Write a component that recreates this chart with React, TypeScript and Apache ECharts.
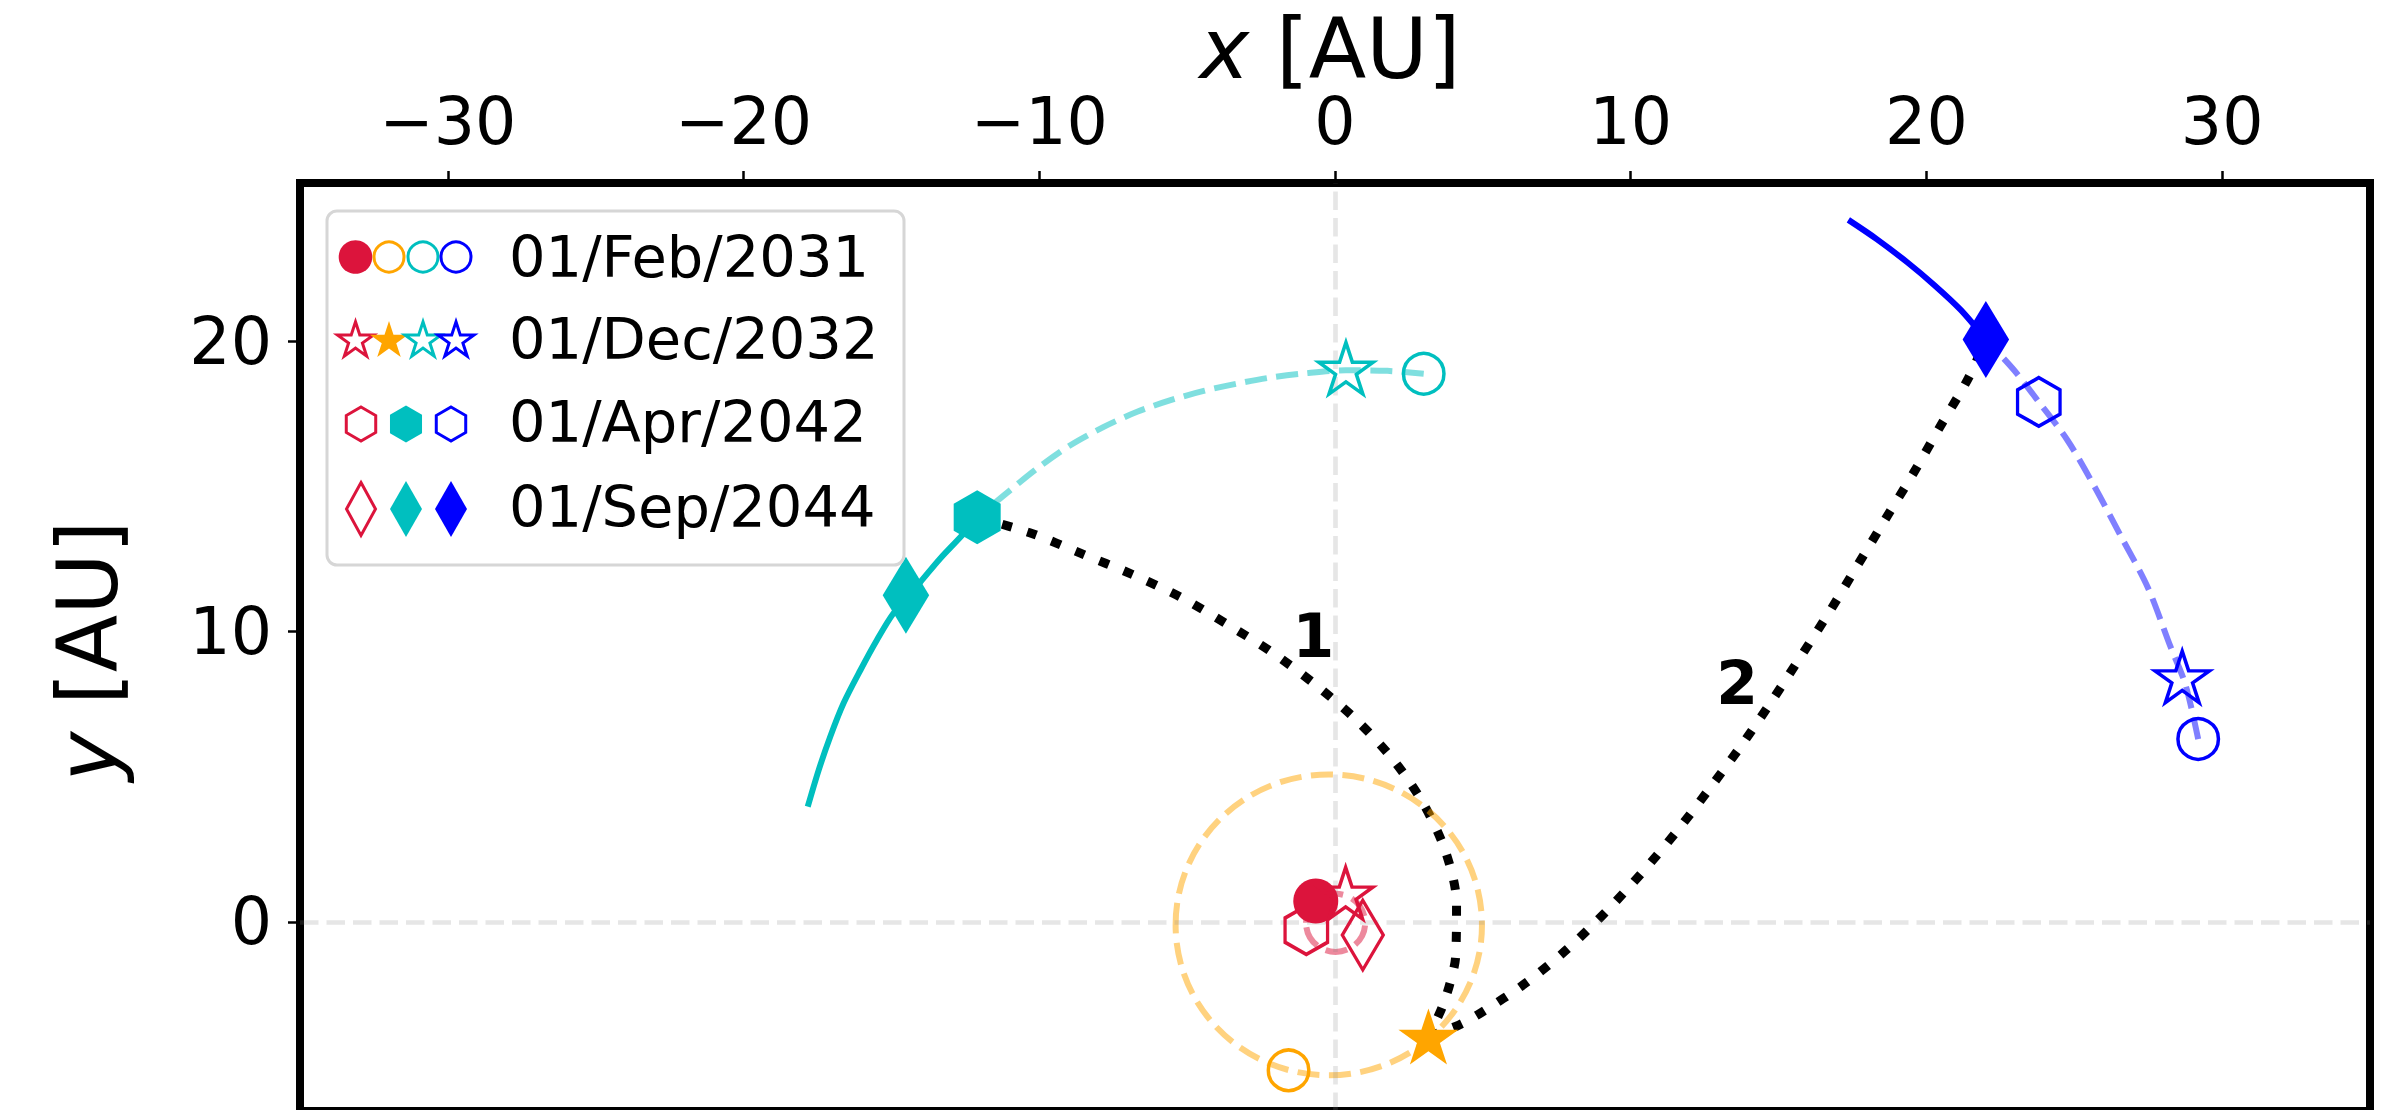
import React, { useEffect, useRef } from 'react';
import * as echarts from 'echarts';

type Pt = [number, number];

const FONT = 'DejaVu Sans';

// ---- axes ----
const xRange: Pt = [-35, 35];
const yRange: Pt = [-6.51, 25.45];
const xTicks = [-30, -20, -10, 0, 10, 20, 30];
const yTicks = [0, 10, 20];

// ---- event dates (legend rows) ----
const dates = ['01/Feb/2031', '01/Dec/2032', '01/Apr/2042', '01/Sep/2044'];

// ---- planet positions on each date [x, y] in AU ----
const earthPos: Pt[] = [[-0.65, 0.72], [0.36, 0.99], [-0.97, -0.28], [0.94, -0.45]];
const jupiterPos: Pt[] = [[-1.57, -5.11], [3.16, -3.94]];
const uranusPos: Pt[] = [[3.0, 18.88], [0.37, 19.07], [-12.1, 13.94], [-14.51, 11.25]];
const neptunePos: Pt[] = [[29.19, 6.3], [28.65, 8.44], [23.8, 17.91], [22.01, 20.06]];

// ---- closed orbits: [centre x, centre y, radius] ----
const earthOrbit = [0.02, -0.03, 1.0];
const jupiterOrbit = [-0.21, -0.1, 5.18];

// ---- orbit arcs of the outer planets ----
const uranusBefore: Pt[] = [
  [3.0, 18.88], [1.77, 18.98], [0.36, 19.0], [-1.06, 18.89], [-2.18, 18.75],
  [-3.31, 18.54], [-4.44, 18.29], [-5.56, 17.97], [-6.69, 17.57], [-7.82, 17.05],
  [-8.95, 16.42], [-10.07, 15.62], [-11.32, 14.59], [-12.1, 13.94],
];
const uranusAfter: Pt[] = [
  [-12.1, 13.94], [-12.61, 13.32], [-13.35, 12.52], [-14.02, 11.71], [-14.93, 10.63],
  [-15.49, 9.71], [-16.05, 8.67], [-16.62, 7.53], [-17.07, 6.38], [-17.46, 5.23], [-17.83, 3.97],
];
const neptuneBefore: Pt[] = [
  [29.19, 6.3], [28.76, 8.17], [28.25, 9.49], [27.49, 11.51], [26.57, 13.3],
  [25.67, 15.02], [24.77, 16.59], [23.8, 17.91], [22.96, 19.01], [22.01, 20.06],
];
const neptuneAfter: Pt[] = [
  [22.01, 20.06], [21.16, 21.08], [20.26, 21.94], [19.35, 22.72], [18.33, 23.51], [17.36, 24.18],
];

// ---- transfer trajectories ----
const transfer1: Pt[] = [
  [-12.1, 13.94], [-10.25, 13.38], [-8.61, 12.7], [-6.88, 11.98], [-5.24, 11.2],
  [-3.69, 10.28], [-2.15, 9.3], [-0.67, 8.18], [0.69, 6.99], [1.96, 5.6],
  [2.98, 4.09], [3.74, 2.42], [4.11, 0.64], [4.08, -1.19], [3.89, -2.11],
  [3.61, -2.97], [3.16, -3.94],
];
const transfer2: Pt[] = [
  [3.16, -3.94], [4.19, -3.55], [4.92, -3.14], [6.44, -2.11], [7.86, -0.93],
  [9.17, 0.36], [10.39, 1.71], [11.58, 3.15], [12.67, 4.6], [13.75, 6.09],
  [14.77, 7.61], [15.78, 9.19], [16.75, 10.73], [17.68, 12.3], [18.61, 13.87],
  [19.55, 15.44], [20.45, 17.04], [21.42, 18.73], [22.01, 20.06],
];
const transferNames = ['1', '2'];
const transferLabelPos: Pt[] = [[-0.73, 9.86], [13.6, 8.22]];

// ---- styling ----
const C = { earth: '#DC143C', jupiter: '#FFA500', uranus: '#00BFBF', neptune: '#0000FF' };
const half = (hex: string) => {
  const n = parseInt(hex.slice(1), 16);
  return `rgba(${(n >> 16) & 255},${(n >> 8) & 255},${n & 255},0.5)`;
};

const STAR = 'path://M0,-1000L224.5,-309L951,-309L363,118L588,809L0,382L-588,809L-363,118L-951,-309L-224.5,-309Z';
const HEX = 'path://M0,-1000L866,-500L866,500L0,1000L-866,500L-866,-500Z';

// marker per date index: circle, star, hexagon, thin diamond
const markerShapes = [
  { symbol: 'circle', filled: 45 as any, open: 40.5 as any },
  { symbol: STAR, filled: [60, 56], open: [54.5, 51.5] },
  { symbol: HEX, filled: [47, 54], open: [42.5, 48.5] },
  { symbol: 'diamond', filled: [46.5, 77], open: [41, 69.5] },
];
const OPEN_W = 3.5;

const bodies = [
  { key: 'earth', pos: earthPos, filled: [0] },
  { key: 'jupiter', pos: jupiterPos, filled: [1] },
  { key: 'uranus', pos: uranusPos, filled: [2, 3] },
  { key: 'neptune', pos: neptunePos, filled: [3] },
] as const;

const minus = (v: number) => (v < 0 ? '\u2212' + Math.abs(v) : String(v));

function lineSeries(data: Pt[], color: string, width: number, type: any, z: number) {
  return {
    type: 'line',
    data,
    symbol: 'none',
    showSymbol: false,
    smooth: 0.3,
    silent: true,
    z,
    lineStyle: { color, width, type, cap: 'butt', join: 'round' },
  };
}

function orbitSeries(orbit: number[], color: string, z: number) {
  return {
    type: 'custom',
    silent: true,
    z,
    data: [orbit],
    renderItem: (_p: any, api: any) => {
      const c = api.coord([api.value(0), api.value(1)]);
      const s = api.size([api.value(2), api.value(2)]);
      return {
        type: 'ellipse',
        shape: { cx: c[0], cy: c[1], rx: s[0], ry: s[1] },
        style: { fill: 'none', stroke: color, lineWidth: 6, lineDash: [22, 9.5] },
      };
    },
  };
}

// ---- legend handle geometry ----
function starPts(cx: number, cy: number, R: number) {
  const pts: number[][] = [];
  const c = cy + 0.0955 * R;
  for (let k = 0; k < 10; k++) {
    const r = k % 2 ? R * 0.381966 : R;
    const a = -Math.PI / 2 + (k * Math.PI) / 5;
    pts.push([cx + r * Math.cos(a), c + r * Math.sin(a)]);
  }
  return pts;
}
function hexPts(cx: number, cy: number, R: number) {
  const pts: number[][] = [];
  for (let k = 0; k < 6; k++) {
    const a = -Math.PI / 2 + (k * Math.PI) / 3;
    pts.push([cx + R * Math.cos(a), cy + R * Math.sin(a)]);
  }
  return pts;
}
function diaPts(cx: number, cy: number, w: number, h: number) {
  return [[cx, cy - h / 2], [cx + w / 2, cy], [cx, cy + h / 2], [cx - w / 2, cy]];
}
function handleStyle(color: string, filled: boolean) {
  return filled ? { fill: color } : { fill: 'none', stroke: color, lineWidth: 3 };
}

function legendElements() {
  const els: any[] = [];
  const Z = 100;
  els.push({
    type: 'rect', z: Z, silent: true,
    shape: { x: 327, y: 211, width: 577, height: 354, r: 10 },
    style: { fill: 'rgba(255,255,255,0.85)', stroke: '#d6d6d6', lineWidth: 3 },
  });
  const textY = [257, 339, 422, 507];
  const handleY = [257, 339, 424, 509];
  const fourX = [355.5, 389, 423, 456];
  const threeX = [361, 406, 451];
  const four = [C.earth, C.jupiter, C.uranus, C.neptune];
  const three = [C.earth, C.uranus, C.neptune];
  // circles
  four.forEach((col, i) => {
    const f = i === 0;
    els.push({ type: 'circle', z: Z + 1, silent: true, shape: { cx: fourX[i], cy: handleY[0], r: f ? 16.8 : 15 }, style: handleStyle(col, f) });
  });
  // stars
  four.forEach((col, i) => {
    const f = i === 1;
    els.push({ type: 'polygon', z: Z + 1, silent: true, shape: { points: starPts(fourX[i], handleY[1], f ? 20 : 19) }, style: handleStyle(col, f) });
  });
  // hexagons
  three.forEach((col, i) => {
    const f = i === 1;
    els.push({ type: 'polygon', z: Z + 1, silent: true, shape: { points: hexPts(threeX[i], handleY[2], f ? 18.5 : 17) }, style: handleStyle(col, f) });
  });
  // diamonds
  three.forEach((col, i) => {
    const f = i >= 1;
    els.push({ type: 'polygon', z: Z + 1, silent: true, shape: { points: f ? diaPts(threeX[i], handleY[3], 32, 56) : diaPts(threeX[i], handleY[3], 29, 53) }, style: handleStyle(col, f) });
  });
  dates.forEach((d, i) => {
    els.push({
      type: 'text', z: Z + 1, silent: true, x: 509, y: textY[i],
      style: { text: d, fontSize: 57.5, fontFamily: FONT, fill: '#000', align: 'left', verticalAlign: 'middle' },
    });
  });
  return els;
}

function titleElements() {
  const rich = (size: number) => ({
    it: { fontSize: size, lineHeight: 76, fontFamily: FONT, fontStyle: 'italic', fill: '#000' },
    n: { fontSize: size, lineHeight: 76, fontFamily: FONT, fill: '#000' },
  });
  return [
    {
      type: 'text', silent: true, x: 1330, y: 49,
      style: { text: '{it|x}{n| [AU]}', rich: rich(84), fontSize: 84, lineHeight: 76, fontFamily: FONT, fill: '#000', align: 'center', verticalAlign: 'middle' },
    },
    {
      type: 'text', silent: true, x: 88, y: 651, rotation: Math.PI / 2,
      style: { text: '{it|y}{n| [AU]}', rich: rich(84), fontSize: 84, lineHeight: 76, fontFamily: FONT, fill: '#000', align: 'center', verticalAlign: 'middle' },
    },
  ];
}

function buildOption() {
  const series: any[] = [];

  // dashed zero lines through the Sun
  series.push({
    type: 'line', data: [], symbol: 'none', silent: true, z: 1,
    markLine: {
      silent: true, symbol: ['none', 'none'], label: { show: false },
      lineStyle: { color: 'rgba(128,128,128,0.2)', width: 4.7, type: [18.5, 8] },
      data: [{ xAxis: 0 }, { yAxis: 0 }],
    },
  });

  // transfer trajectories
  series.push(lineSeries(transfer1, '#000', 9, [10, 16], 2));
  series.push(lineSeries(transfer2, '#000', 9, [10, 16], 2));

  // inner orbits
  series.push(orbitSeries(earthOrbit, half(C.earth), 3));
  series.push(orbitSeries(jupiterOrbit, half(C.jupiter), 3));

  // outer-planet arcs
  series.push(lineSeries(uranusBefore, half(C.uranus), 6, [22, 9.5], 4));
  series.push(lineSeries(uranusAfter, C.uranus, 6, 'solid', 4));
  series.push(lineSeries(neptuneBefore, half(C.neptune), 6, [22, 9.5], 4));
  series.push(lineSeries(neptuneAfter, C.neptune, 6, 'solid', 4));

  // event markers: hexagons and diamonds below circles and stars
  const order = [2, 3, 0, 1];
  order.forEach((di) => {
    bodies.forEach((b) => {
      const p = b.pos[di];
      if (!p) return;
      const col = (C as any)[b.key];
      const filled = (b.filled as readonly number[]).includes(di);
      const shp = markerShapes[di];
      series.push({
        type: 'scatter', silent: true, z: 5,
        data: [p],
        symbol: shp.symbol,
        symbolSize: filled ? shp.filled : shp.open,
        itemStyle: filled
          ? { color: col, opacity: 1 }
          : { color: 'rgba(0,0,0,0)', borderColor: col, borderWidth: OPEN_W, opacity: 1 },
      });
    });
  });

  // transfer labels
  series.push({
    type: 'scatter', silent: true, z: 6,
    data: transferLabelPos.map((p, i) => [p[0], p[1], transferNames[i]]),
    symbolSize: 1,
    itemStyle: { color: '#000', opacity: 1 },
    label: {
      show: true, position: 'inside', formatter: (p: any) => p.value[2],
      fontSize: 60, fontWeight: 'bold', fontFamily: FONT, color: '#000',
      textBorderWidth: 0, textBorderColor: 'transparent', opacity: 1,
    },
  });

  return {
    animation: false,
    backgroundColor: '#fff',
    grid: {
      left: 300, top: 183, width: 2070, height: 928,
      show: true, borderColor: '#000', borderWidth: 8, backgroundColor: 'transparent',
      containLabel: false, outerBoundsMode: 'none',
    },
    xAxis: {
      type: 'value', position: 'top', min: xRange[0], max: xRange[1],
      axisLine: { show: false, onZero: false },
      axisTick: { show: true, length: 12, lineStyle: { color: '#000', width: 2.5 }, customValues: xTicks },
      axisLabel: { customValues: xTicks, formatter: minus, fontSize: 65, fontFamily: FONT, color: '#000', margin: 29 },
      splitLine: { show: false },
    },
    yAxis: {
      type: 'value', min: yRange[0], max: yRange[1],
      axisLine: { show: false, onZero: false },
      axisTick: { show: true, length: 12, lineStyle: { color: '#000', width: 2.5 }, customValues: yTicks },
      axisLabel: { customValues: yTicks, formatter: minus, fontSize: 65, fontFamily: FONT, color: '#000', margin: 28 },
      splitLine: { show: false },
    },
    series,
    graphic: { elements: [...titleElements(), ...legendElements()] },
  };
}

export default function App() {
  const ref = useRef<HTMLDivElement>(null);
  useEffect(() => {
    const el = ref.current;
    if (!el) return;
    const chart = echarts.init(el, undefined, { renderer: 'svg' });
    chart.setOption(buildOption() as any);
    return () => chart.dispose();
  }, []);
  return (
    <div
      ref={ref}
      style={{ position: 'absolute', left: 0, top: 0, width: 2397, height: 1110, background: '#fff' }}
    />
  );
}
